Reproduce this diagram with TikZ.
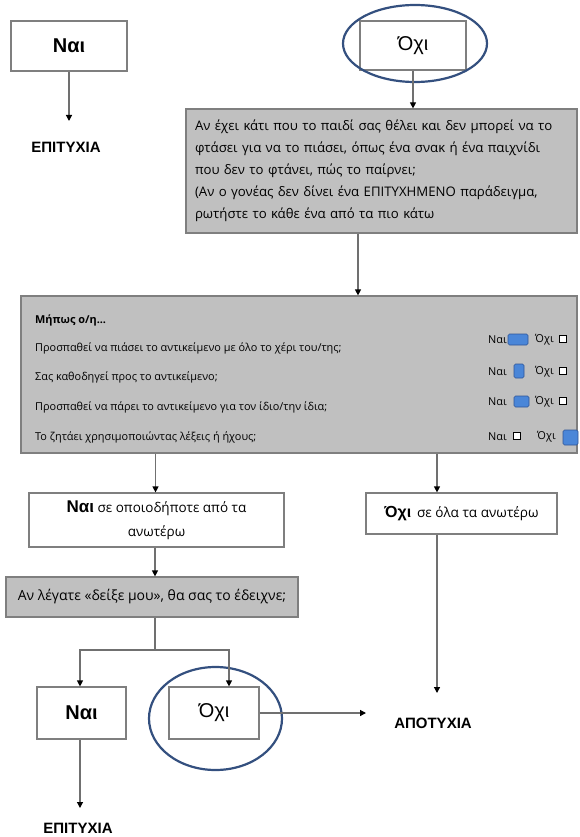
\documentclass[tikz,border=0pt]{standalone}
\usepackage{fontspec}
\setmainfont{Open Sans}
\newfontfamily\arialf{Liberation Sans}
\usetikzlibrary{shapes.geometric,arrows.meta}
\definecolor{boxgray}{HTML}{C0C0C0}
\definecolor{bordergray}{HTML}{7F7F7F}
\definecolor{linegray}{HTML}{707070}
\definecolor{ringblue}{HTML}{34507F}
\definecolor{chkblue}{HTML}{4A86D8}
\definecolor{chkborder}{HTML}{2F5597}
\begin{document}
\begin{tikzpicture}[x=1pt,y=-1pt,
  box/.style={draw=bordergray, line width=1.2pt, fill=white, inner sep=0pt, align=center},
  gbox/.style={box, fill=boxgray},
  conn/.style={draw=linegray, line width=1.2pt},
  arr/.style={conn, -{Triangle[length=6pt,width=6pt,black]}},
  ring/.style={draw=ringblue, line width=2.2pt, ellipse, inner sep=0pt},
  lab/.style={font=\arialf\bfseries\fontsize{15}{17}\selectfont, inner sep=0pt},
  big/.style={font=\arialf\fontsize{20}{24}\selectfont},
  bigb/.style={font=\arialf\bfseries\fontsize{20}{24}\selectfont},
  row/.style={font=\fontsize{10.9}{12}\selectfont, inner sep=0pt, anchor=west},
  chk/.style={draw=chkborder, fill=chkblue, rounded corners=1.5pt, line width=0.6pt, inner sep=0pt},
  unchk/.style={draw=black, line width=0.5pt, inner sep=0pt, minimum width=7pt, minimum height=7pt, fill=white},
]
\useasboundingbox (0,0) rectangle (580,837);

% top left
\node[box, bigb, minimum width=116pt, minimum height=50pt] (nai1) at (69,46) {Ναι};
\node[lab] (ep1) at (66,147) {ΕΠΙΤΥΧΙΑ};
\coordinate (t1) at (69,121);
\draw[arr] (nai1.south) -- (t1);

% top right
\node[box, big, minimum width=106pt, minimum height=49pt] (oxi1) at (413,45.5) {Όχι};
\node[ring, minimum width=144pt, minimum height=77pt] (e1) at (415,43.5) {};

% question 1
\node[gbox, minimum width=391pt, minimum height=124pt, text width=373pt, align=left,
      font=\fontsize{13.2}{22}\selectfont] (q1) at (381.5,171)
 {Αν έχει κάτι που το παιδί σας θέλει και δεν μπορεί να το\\
  φτάσει για να το πιάσει, όπως ένα σνακ ή ένα παιχνίδι\\
  που δεν το φτάνει, πώς το παίρνει;\\
  (Αν ο γονέας δεν δίνει ένα ΕΠΙΤΥΧΗΜΕΝΟ παράδειγμα,\\
  ρωτήστε το κάθε ένα από τα πιο κάτω};
\draw[arr] (oxi1.south) -- (oxi1.south |- q1.north);

% big box
\node[gbox, minimum width=556pt, minimum height=157pt] (q2) at (299,374.5) {};
\draw[arr] ([xshift=-23.5pt]q1.south) -- ([xshift=-23.5pt]q1.south |- q2.north);

\node[row, font=\bfseries\fontsize{10.9}{12}\selectfont] (h0) at (35,320) {Μήπως ο/η...};
\node[row] (r1) at (35,348) {Προσπαθεί να πιάσει το αντικείμενο με όλο το χέρι του/της;};
\node[row] (r2) at (35,377) {Σας καθοδηγεί προς το αντικείμενο;};
\node[row] (r3) at (35,407) {Προσπαθεί να πάρει το αντικείμενο για τον ίδιο/την ίδια;};
\node[row] (r4) at (35,437) {Το ζητάει χρησιμοποιώντας λέξεις ή ήχους;};

\node[row] (y1) at (488,340) {Ναι};
\node[row] (y2) at (488,372) {Ναι};
\node[row] (y3) at (488,402) {Ναι};
\node[row] (y4) at (488,437) {Ναι};
\node[row] (n1) at (535,340) {Όχι};
\node[row] (n2) at (535,372) {Όχι};
\node[row] (n3) at (535,402) {Όχι};
\node[row] (n4) at (537,437) {Όχι};

\node[chk, minimum width=20pt, minimum height=11pt] (c1) at (518,339.5) {};
\node[chk, minimum width=10pt, minimum height=14pt] (c2) at (519,371) {};
\node[chk, minimum width=15pt, minimum height=11pt] (c3) at (521.5,401.5) {};
\node[chk, minimum width=15pt, minimum height=15pt] (c4) at (570.5,437.5) {};
\node[unchk] (u1) at (563,339) {};
\node[unchk] (u2) at (563,371) {};
\node[unchk] (u3) at (563,401) {};
\node[unchk] (u4) at (517,436) {};

% second level
\node[box, minimum width=255pt, minimum height=54pt, font=\fontsize{13.5}{24}\selectfont] (a1) at (156.5,520)
 {{\arialf\bfseries\fontsize{17}{20}\selectfont Ναι} σε οποιοδήποτε από τα\\ανωτέρω};
\node[box, minimum width=191pt, minimum height=41pt, font=\fontsize{13.6}{15}\selectfont] (b1) at (461.5,513.5)
 {{\arialf\bfseries\fontsize{16}{20}\selectfont Όχι}\, σε όλα τα ανωτέρω};
\draw[arr] ([xshift=-143.5pt]q2.south) -- ([xshift=-143.5pt]q2.south |- a1.north);
\draw[arr] ([xshift=138pt]q2.south) -- ([xshift=138pt]q2.south |- b1.north);

% question 3
\node[gbox, minimum width=292pt, minimum height=40pt, font=\fontsize{14}{15}\selectfont] (q3) at (152,597)
 {Αν λέγατε «δείξε μου», θα σας το έδειχνε;};
\draw[arr] ([xshift=-1.5pt]a1.south) -- ([xshift=-1.5pt]a1.south |- q3.north);

% bottom
\node[box, bigb, minimum width=89pt, minimum height=52pt] (nai3) at (81.5,713) {Ναι};
\node[box, big, minimum width=90pt, minimum height=52pt] (oxi3) at (214,713) {Όχι};
\node[ring, minimum width=133pt, minimum height=103pt] (e2) at (215.5,718.5) {};
\coordinate (split) at (155,650);
\draw[conn] ([xshift=3pt]q3.south) -- (split);
\draw[arr] (split) -| ([xshift=-1.5pt]nai3.north);
\draw[arr] (split) -| ([xshift=15pt]oxi3.north);

\node[lab] (ep2) at (78,828) {ΕΠΙΤΥΧΙΑ};
\coordinate (t2) at (80,808);
\draw[arr] ([xshift=-1.5pt]nai3.south) -- (t2);

\node[lab] (apo) at (433,723) {ΑΠΟΤΥΧΙΑ};
\coordinate (t3) at (366,713);
\draw[arr] (oxi3.east) -- (t3);
\coordinate (t4) at (437,693);
\draw[arr] ([xshift=-24.5pt]b1.south) -- (t4);
\end{tikzpicture}
\end{document}
